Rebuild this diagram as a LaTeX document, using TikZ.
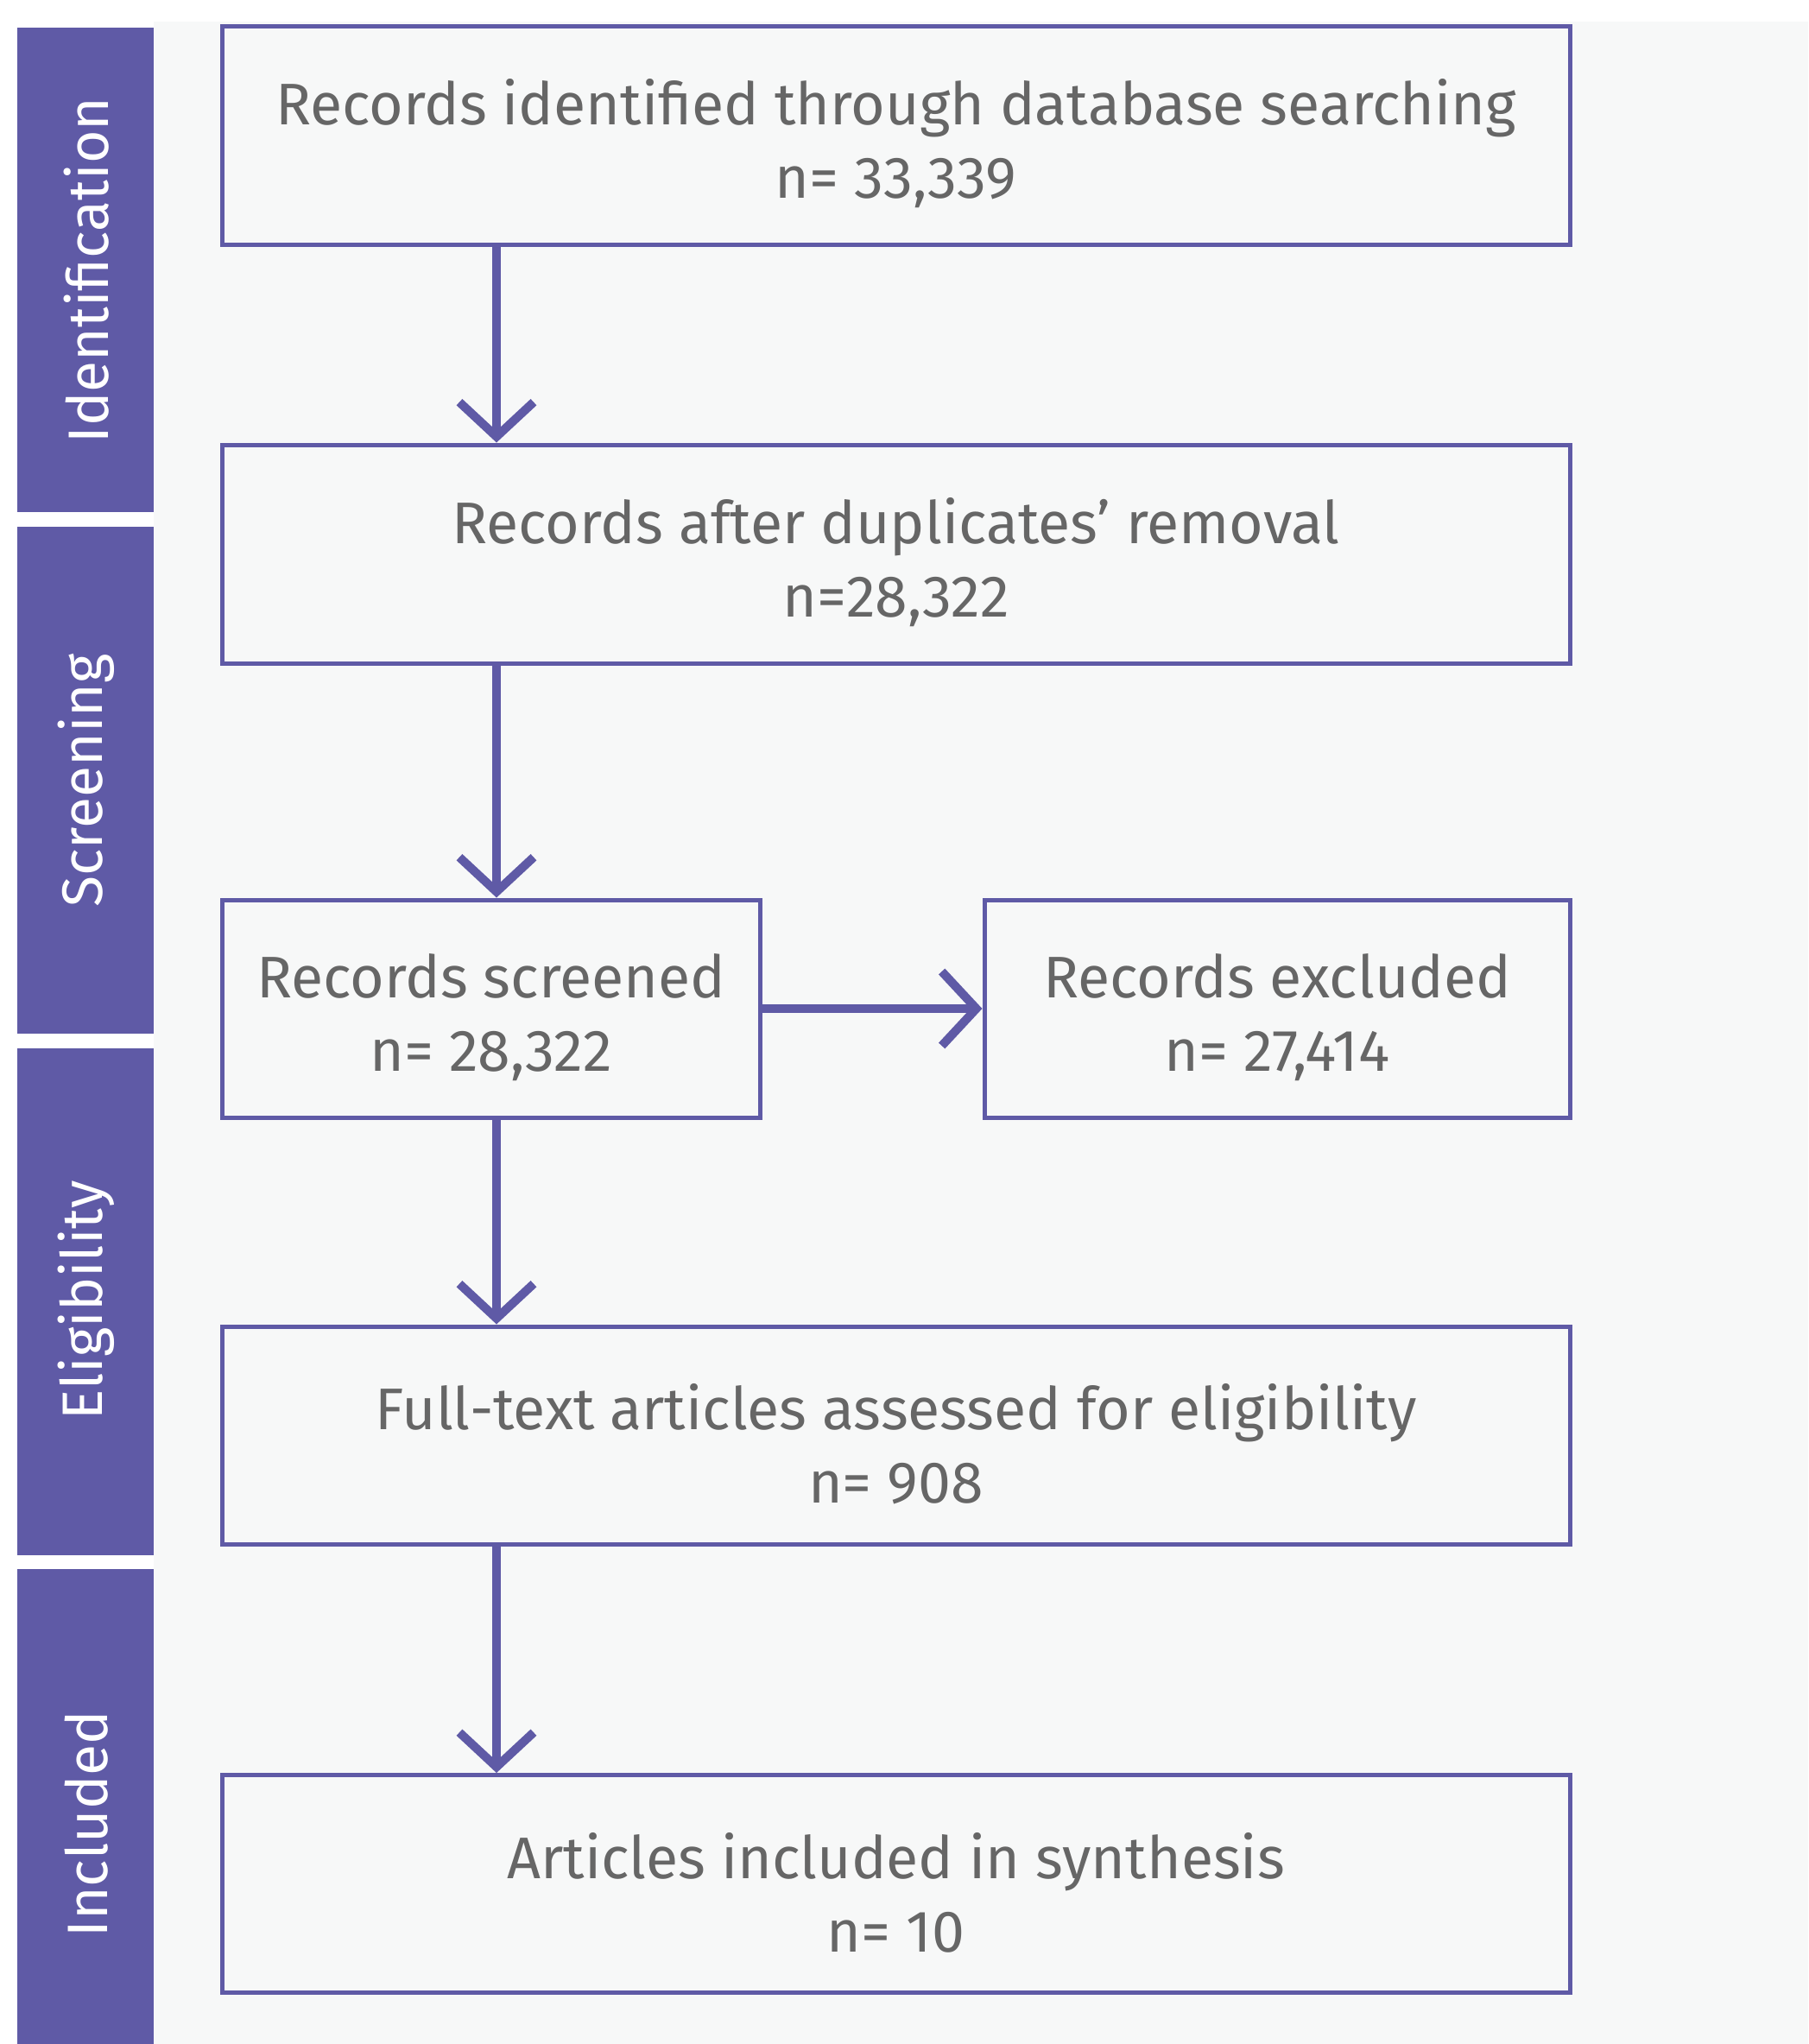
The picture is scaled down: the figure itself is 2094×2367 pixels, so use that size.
\documentclass[tikz,border=0pt]{standalone}
\usepackage{fontspec}
\setmainfont{Fira Sans}
\usetikzlibrary{arrows.meta}
\definecolor{purp}{HTML}{5F5AA6}
\definecolor{bgc}{HTML}{F7F8F8}
\definecolor{txt}{HTML}{666666}
\tikzset{
  box/.style={draw=purp, line width=5pt, fill=bgc, inner sep=0pt},
  boxtext/.style={label={[text=txt, align=center, yshift=-10pt,
    font=\fontsize{68}{85}\selectfont]center:#1}},
  sidelabel/.style={text=white, rotate=90, font=\fontsize{66}{70}\selectfont},
  arr/.style={draw=purp, line width=10pt, -{Straight Barb[length=40pt,width=86pt]}}
}
\begin{document}
\begin{tikzpicture}[x=1pt,y=-1pt]
\useasboundingbox (0,0) rectangle (2094,2367);
\fill[white] (0,0) rectangle (2094,2367);
\fill[bgc] (178,25) rectangle (2094,2367);
% side bars
\fill[purp] (20,32) rectangle (178,593);
\fill[purp] (20,610) rectangle (178,1197);
\fill[purp] (20,1214) rectangle (178,1801);
\fill[purp] (20,1817) rectangle (178,2367);
\node[sidelabel] (s1) at (100,313) {Identification};
\node[sidelabel] (s2) at (100,904) {Screening};
\node[sidelabel] (s3) at (100,1506) {Eligibility};
\node[sidelabel] (s4) at (100,2112) {Included};
% boxes
\node[box, minimum width=1561pt, minimum height=253pt,
  boxtext={Records identified through database searching\\n= 33,339}] (b1) at (1037.5,156.5) {};
\node[box, minimum width=1561pt, minimum height=253pt,
  boxtext={Records after duplicates’ removal\\n=28,322}] (b2) at (1037.5,641.5) {};
\node[box, minimum width=623pt, minimum height=252pt,
  boxtext={Records screened\\n= 28,322}] (b3) at (568.5,1168) {};
\node[box, minimum width=678pt, minimum height=252pt,
  boxtext={Records excluded\\n= 27,414}] (b4) at (1479,1168) {};
\node[box, minimum width=1561pt, minimum height=252pt,
  boxtext={Full-text articles assessed for eligibility\\n= 908}] (b5) at (1037.5,1662) {};
\node[box, minimum width=1561pt, minimum height=252pt,
  boxtext={Articles included in synthesis\\n= 10}] (b6) at (1037.5,2181.5) {};
\coordinate (ax) at (575,0);
\draw[arr] (b1.south -| ax) -- (b2.north -| ax);
\draw[arr] (b2.south -| ax) -- (b3.north -| ax);
\draw[arr] (b3.south -| ax) -- (b5.north -| ax);
\draw[arr] (b5.south -| ax) -- (b6.north -| ax);
\draw[arr] (b3.east) -- (b4.west);
\end{tikzpicture}
\end{document}
